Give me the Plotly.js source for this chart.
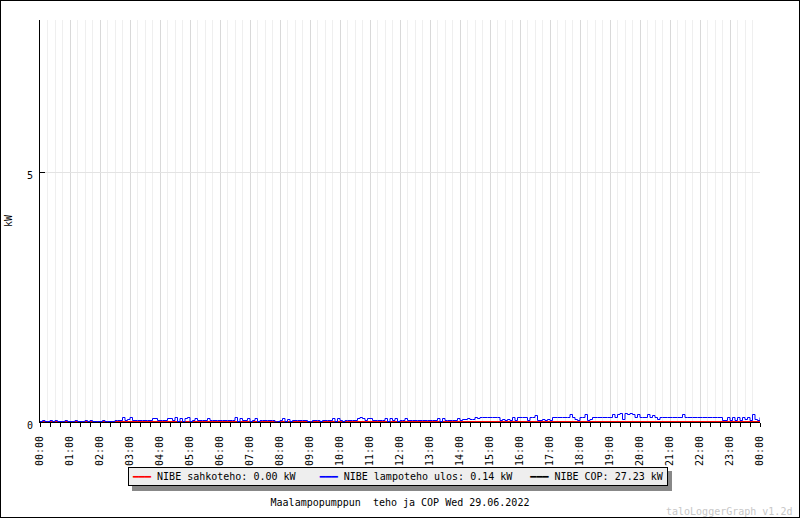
<!DOCTYPE html>
<html>
<head>
<meta charset="utf-8">
<script src="https://cdn.plot.ly/plotly-3.0.1.min.js"></script>
<style>
  html, body { margin: 0; padding: 0; background: #fff; }
  #chart { width: 798px; height: 516px; border: 1px solid #000; }
</style>
</head>
<body>
<div id="chart"></div>
<script>
// ---- data ----
const dayStart = '2022-06-29 00:00';
const dayEnd = '2022-06-30 00:00';
const stepMinutes = 5;

// NIBE lampoteho ulos (kW), one value every 5 minutes, 00:00 ... 24:00
const lampotehoKw = [
  0.01,0.03,0.01,0.01,0.03,0.01,0.03,0.01,0.01,0.01,0.03,0.01,
  0.01,0.01,0.03,0.01,0.01,0.01,0.03,0.01,0.03,0.01,0.01,0.01,
  0.01,0.03,0.01,0.01,0.01,0.01,0.03,0.03,0.03,0.09,0.03,0.05,
  0.09,0.03,0.03,0.03,0.03,0.03,0.03,0.03,0.03,0.07,0.07,0.03,
  0.03,0.03,0.03,0.07,0.07,0.03,0.09,0.01,0.07,0.01,0.07,0.09,
  0.01,0.03,0.07,0.03,0.03,0.03,0.03,0.07,0.03,0.03,0.03,0.03,
  0.03,0.03,0.03,0.03,0.03,0.03,0.09,0.01,0.07,0.03,0.03,0.07,
  0.01,0.03,0.07,0.01,0.03,0.03,0.03,0.03,0.03,0.03,0.00,0.01,
  0.03,0.07,0.01,0.05,0.01,0.03,0.03,0.03,0.03,0.03,0.03,0.01,
  0.00,0.03,0.03,0.03,0.01,0.03,0.03,0.03,0.03,0.07,0.01,0.07,
  0.03,0.01,0.03,0.03,0.03,0.03,0.03,0.07,0.09,0.07,0.03,0.07,
  0.07,0.03,0.03,0.03,0.03,0.03,0.07,0.01,0.07,0.03,0.07,0.01,
  0.03,0.03,0.07,0.03,0.03,0.03,0.03,0.03,0.03,0.03,0.03,0.03,
  0.03,0.03,0.03,0.07,0.01,0.07,0.03,0.03,0.03,0.03,0.03,0.07,
  0.03,0.05,0.05,0.07,0.05,0.05,0.09,0.07,0.09,0.09,0.09,0.09,
  0.09,0.09,0.09,0.09,0.03,0.05,0.03,0.05,0.03,0.09,0.03,0.09,
  0.09,0.09,0.09,0.03,0.09,0.09,0.13,0.03,0.03,0.05,0.03,0.05,
  0.03,0.09,0.09,0.09,0.09,0.09,0.09,0.09,0.15,0.09,0.05,0.03,
  0.09,0.09,0.15,0.03,0.05,0.09,0.09,0.09,0.09,0.09,0.09,0.09,
  0.09,0.15,0.09,0.15,0.17,0.05,0.17,0.15,0.17,0.15,0.09,0.15,
  0.09,0.09,0.09,0.15,0.09,0.13,0.09,0.05,0.09,0.09,0.09,0.09,
  0.09,0.09,0.09,0.09,0.09,0.15,0.09,0.09,0.09,0.09,0.09,0.09,
  0.09,0.09,0.09,0.09,0.09,0.09,0.09,0.09,0.09,0.03,0.03,0.09,
  0.03,0.09,0.03,0.09,0.03,0.09,0.05,0.09,0.03,0.15,0.05,0.03,
  0.09
];
// NIBE sahkoteho (kW): zero all day
const sahkotehoTimes = [dayStart, dayEnd];
const sahkotehoKw = [0, 0];
// NIBE COP: last value only (off the scale)
const copTimes = [dayEnd];
const copValues = [27.23];

const seriesNames = [
  'NIBE sahkoteho: 0.00 kW',
  'NIBE lampoteho ulos: 0.14 kW',
  'NIBE COP: 27.23 kW'
];
const seriesColors = ['#ff0000', '#0000ff', '#000000'];
const yTickVals = [0, 5];
const chartTitle = 'Maalampopumppun\u00a0 teho ja COP Wed 29.06.2022';
const watermark = 'taloLoggerGraph v1.2d';

// ---- build ----
function pad(n) { return (n < 10 ? '0' : '') + n; }
const lampotehoTimes = lampotehoKw.map((_, i) => {
  const m = i * stepMinutes;
  if (m >= 1440) return dayEnd;
  return '2022-06-29 ' + pad(Math.floor(m / 60)) + ':' + pad(m % 60);
});

const mono = 'DejaVu Sans Mono, monospace';
const font10 = { family: mono, size: 10, color: '#000' };

const traces = [
  { type: 'scatter', mode: 'lines', name: seriesNames[0], x: sahkotehoTimes, y: sahkotehoKw,
    line: { color: seriesColors[0], width: 2 }, showlegend: false },
  { type: 'scatter', mode: 'lines', name: seriesNames[2], x: copTimes, y: copValues,
    xaxis: 'x2', line: { color: seriesColors[2], width: 2 }, showlegend: false },
  { type: 'scatter', mode: 'lines', name: seriesNames[1], x: lampotehoTimes, y: lampotehoKw,
    xaxis: 'x2', line: { color: seriesColors[1], width: 1, shape: 'hv', simplify: false }, showlegend: false }
];

// legend drawn as a boxed text line with a drop shadow
const nb = '\u00a0';
const sample = '\u2501\u2501\u2501';
const gaps = [nb + nb + nb + nb, nb + nb + nb, ''];
const legendText = seriesNames.map((n, i) =>
  '<span style="color:' + seriesColors[i] + '">' + sample + '</span>' + nb + n + gaps[i]).join('');
const legendX = 0.4979, legendY = -0.1368;

const layout = {
  width: 798, height: 516,
  margin: { l: 39, r: 39, t: 19, b: 95, pad: 0 },
  paper_bgcolor: '#fff', plot_bgcolor: '#fff',
  font: font10,
  showlegend: false,
  title: { text: chartTitle, font: font10, x: 0.5, xref: 'container', xanchor: 'center',
           y: 0.029, yref: 'container', yanchor: 'middle' },
  xaxis: {
    type: 'date', range: [dayStart, dayEnd], fixedrange: true,
    tick0: dayStart, dtick: 3600000, tickformat: '%H:%M', tickangle: -90,
    tickfont: font10, ticklabelstandoff: 5,
    ticks: 'outside', ticklen: 4, tickcolor: '#000', tickwidth: 1,
    showgrid: true, gridcolor: '#d9d9d9', gridwidth: 1,
    minor: { dtick: 900000, tick0: dayStart, showgrid: true, gridcolor: '#efefef', gridwidth: 1, ticks: '' },
    showline: true, linecolor: '#000', linewidth: 1, zeroline: false
  },
  xaxis2: {
    type: 'date', range: [dayStart, dayEnd], overlaying: 'x', anchor: 'y', side: 'bottom',
    tick0: dayStart, dtick: 1200000, ticks: 'outside', ticklen: 4, tickcolor: '#000',
    showticklabels: false, showgrid: false, showline: false, zeroline: false, fixedrange: true
  },
  yaxis: {
    range: [0, 8.04], fixedrange: true,
    tickvals: yTickVals, ticktext: yTickVals.map(String), tickfont: font10,
    ticks: 'inside', ticklen: 5, tickcolor: '#000', ticklabelstandoff: 4, ticklabelshift: 3,
    showgrid: true, gridcolor: '#e3e3e3', zeroline: false,
    showline: true, linecolor: '#000', linewidth: 1,
    title: { text: 'kW', font: font10, standoff: 12 }
  },
  shapes: [
    { type: 'rect', xref: 'paper', yref: 'paper', x0: 0.12778, x1: 0.87778, y0: -0.17164, y1: -0.12189,
      fillcolor: '#888888', line: { width: 0 }, layer: 'above' }
  ],
  annotations: [
    { text: legendText, xref: 'paper', yref: 'paper', x: legendX, y: legendY,
      xanchor: 'center', yanchor: 'middle', showarrow: false,
      font: font10, bgcolor: '#eeeeee', bordercolor: '#000000', borderwidth: 1, borderpad: 3 },
    { text: watermark, xref: 'paper', yref: 'paper', x: 1.0472, xanchor: 'right',
      y: -0.2214, yanchor: 'middle', showarrow: false,
      font: { family: mono, size: 10, color: '#c8c8c8' } }
  ]
};

Plotly.newPlot('chart', traces, layout, { displayModeBar: false, staticPlot: true });
</script>
</body>
</html>
